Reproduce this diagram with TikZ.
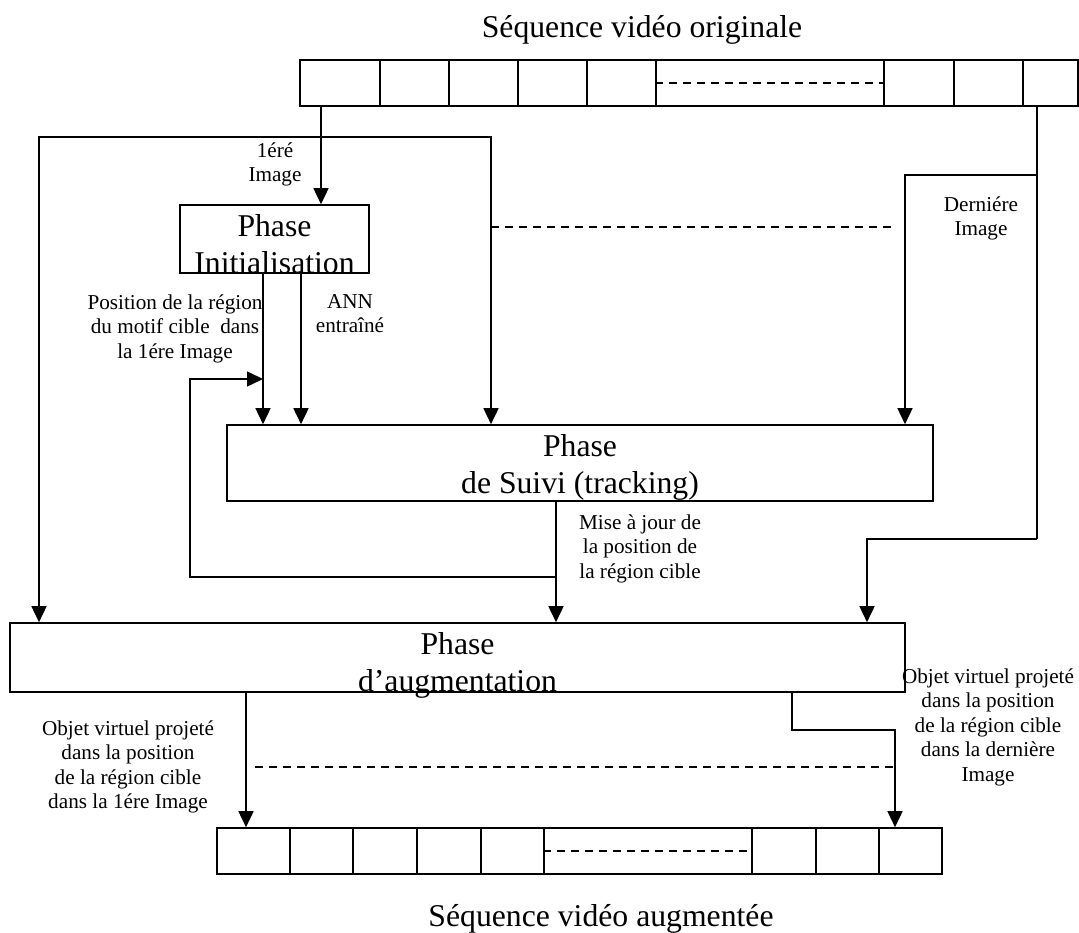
\documentclass[tikz,border=0pt]{standalone}
\usepackage{fontspec}
\setmainfont{Liberation Serif}
\usetikzlibrary{arrows.meta,calc}
\begin{document}
\begin{tikzpicture}[x=1pt,y=-1pt,line width=1.6pt,
  cell/.style={draw,inner sep=0pt,minimum height=46pt},
  phasebox/.style={draw,inner sep=0pt},
  arr/.style={-{Triangle[length=16pt,width=15pt]}},
  dashline/.style={line width=1.4pt,dash pattern=on 8pt off 6pt},
  big/.style={font=\fontsize{31.7}{37}\selectfont,align=center,inner sep=0pt,anchor=north},
  lbl/.style={font=\fontsize{21.2}{24.5}\selectfont,align=center,inner sep=0pt,anchor=north}]
\useasboundingbox (0,0) rectangle (1079,933);

% top film strip
\foreach \l/\r [count=\i] in {300/380,380/449,449/518,518/587,587/656,656/884,884/954,954/1023,1023/1078}
  \node[cell,minimum width={(\r-\l)*1pt}] (t\i) at ({(\l+\r)/2},83) {};
\draw[dashline] (t6.west) -- (t6.east);
% bottom film strip
\foreach \l/\r [count=\i] in {217/290,290/353,353/417,417/481,481/544,544/752,752/816,816/879,879/942}
  \node[cell,minimum width={(\r-\l)*1pt}] (b\i) at ({(\l+\r)/2},851) {};
\draw[dashline] (b6.west) -- (b6.east);

% phase boxes
\node[phasebox,minimum width=189pt,minimum height=68pt] (init) at (274.5,239) {};
\node[phasebox,minimum width=706pt,minimum height=76pt] (track) at (580,463) {};
\node[phasebox,minimum width=895pt,minimum height=69pt] (aug) at (457.5,657.5) {};

% titles and box texts
\node[big] (title1) at (642,14.3) {Séquence vidéo originale};
\node[big] (title2) at (601,903.3) {Séquence vidéo augmentée};
\node[big] (initT) at (274.5,213.3) {Phase\\Initialisation};
\node[big] (trackT) at (580,433.3) {Phase\\de Suivi (tracking)};
\node[big] (augT) at (457.5,631.3) {Phase\\d’augmentation};

% labels
\node[lbl] (l1) at (275,141.5) {1éré\\Image};
\node[lbl] (l2) at (981,195.6) {Derniére\\Image};
\node[lbl] (l3) at (175,293.5) {Position de la région\\du motif cible\ \ dans\\la 1ére Image};
\node[lbl] (l4) at (350,293.7) {ANN\\entraîné};
\node[lbl] (l5) at (640,513.5) {Mise à jour de\\la position de\\la région cible};
\node[lbl] (l6) at (128,719.5) {Objet virtuel projeté\\dans la position\\de la région cible\\dans la 1ére Image};
\node[lbl] (l7) at (988,667.5) {Objet virtuel projeté\\dans la position\\de la région cible\\dans la dernière\\Image};

% helper coordinates
\coordinate (jA) at (321,137);
\coordinate (xL) at (39,0);
\coordinate (xM) at (491,0);
\coordinate (p1) at (263,0);
\coordinate (p2) at (301,0);
\coordinate (lp) at (190,379);
\coordinate (loopA) at (556,577);
\coordinate (xT) at (556,0);
\coordinate (jR) at (1037,175);
\coordinate (jR2) at (1037,539);
\coordinate (q) at (905,0);
\coordinate (r) at (867,0);
\coordinate (u1) at (246,0);
\coordinate (u2) at (792,730);
\coordinate (u3) at (895,0);

% first image
\draw[arr] (t1.south -| jA) -- (init.north -| jA);
\draw[arr] (jA) -| (aug.north -| xL);
\draw[arr] (jA) -| (track.north -| xM);
% init to tracking
\draw[arr] (init.south -| p1) -- (track.north -| p1);
\draw[arr] (init.south -| p2) -- (track.north -| p2);
% tracking to augmentation with feedback
\draw[arr] (track.south -| xT) -- (aug.north -| xT);
\draw[arr] (loopA) -| (lp) -- (lp -| p1);
% last image
\draw (t9.south -| jR) -- (jR2);
\draw[arr] (jR2) -| (aug.north -| r);
\draw[arr] (jR) -| (track.north -| q);
% outputs
\draw[arr] (aug.south -| u1) -- (b1.north -| u1);
\draw[arr] (aug.south -| u2) -- (u2) -| (b9.north -| u3);
% ellipsis lines
\draw[dashline] (491,227) -- (893,227);
\draw[dashline] (255,767) -- (893,767);
\end{tikzpicture}
\end{document}
